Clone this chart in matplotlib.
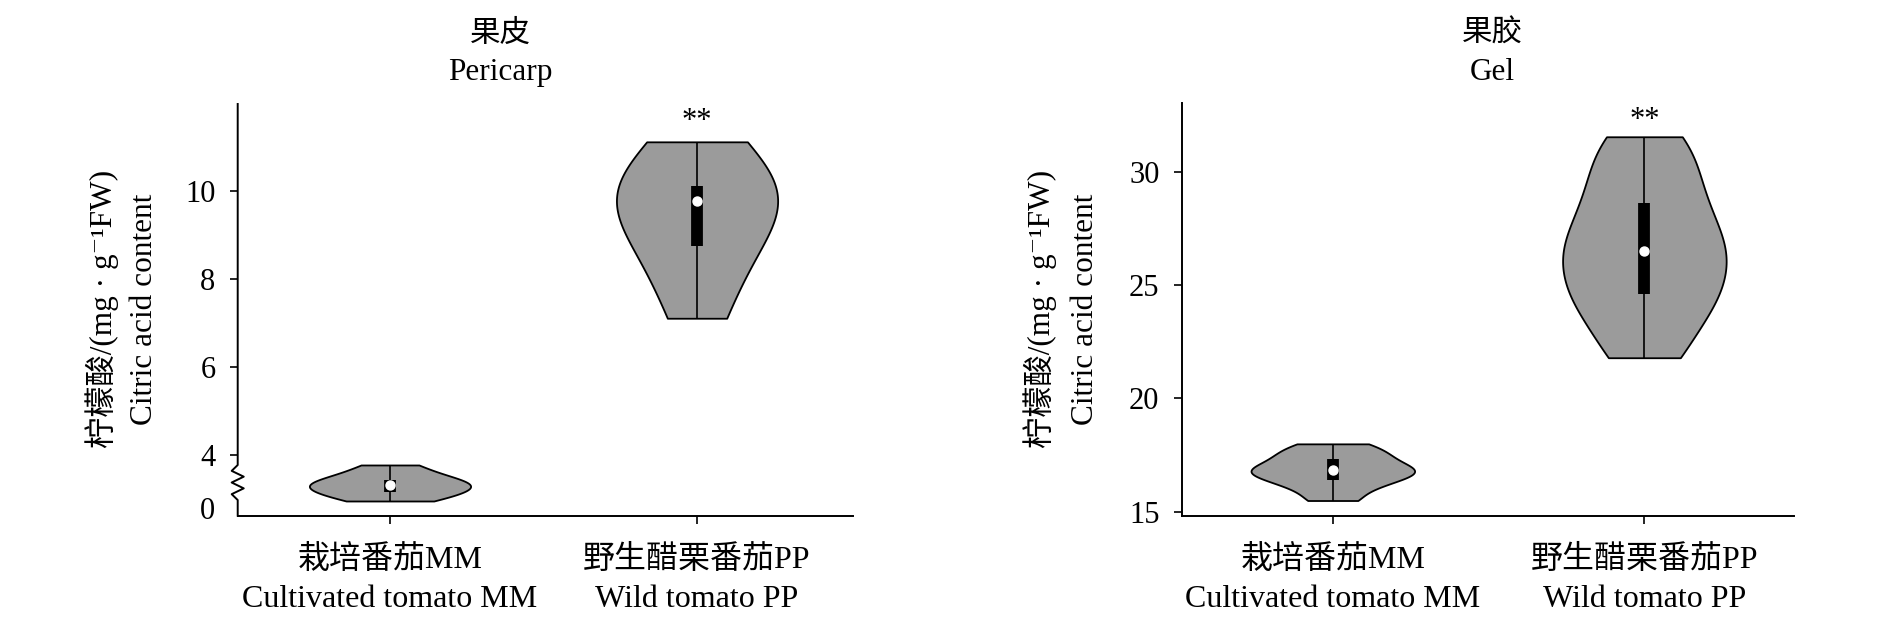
import numpy as np
import matplotlib
matplotlib.use('Agg')
import matplotlib.pyplot as plt

plt.rcParams['font.family'] = ['Liberation Serif', 'Noto Sans CJK SC', 'DejaVu Serif']

# citric acid content, mg/g FW (replicates)
peri_mm = [0.53, 0.8, 1.15, 1.4, 1.62, 1.86, 2.0, 2.15, 2.75, 3.25]
peri_pp = [7.11, 7.85, 8.5, 9.5, 9.7, 9.84, 10.02, 10.14, 10.16, 11.12]
gel_mm = [15.49, 16.05, 16.35, 16.6, 16.78, 16.85, 17.1, 17.4, 17.65, 17.99]
gel_pp = [21.79, 23.4, 24.4, 25.2, 26.2, 26.8, 27.8, 28.9, 30.2, 31.54]

groups_cn = ['栽培番茄MM', '野生醋栗番茄PP']
groups_en = ['Cultivated tomato MM', 'Wild tomato PP']
signif = ['', '**']

peri_ticks = [0, 4, 6, 8, 10]
gel_ticks = [15, 20, 25, 30]

# broken y axis on the pericarp panel: 0-4 squeezed
K = 0.301


def fwd(y):
    y = np.asarray(y, dtype=float)
    return np.where(y < 4, y * K, y - 4 + 4 * K)


def inv(p):
    p = np.asarray(p, dtype=float)
    return np.where(p < 4 * K, p / K, p + 4 - 4 * K)


def draw_violins(ax, data, bws, star_off):
    for pos, vals, h in zip([0, 1], data, bws):
        vals = np.asarray(vals)
        parts = ax.violinplot(vals, positions=[pos], widths=0.525, showextrema=False,
                              bw_method=h / vals.std(ddof=1))
        for b in parts['bodies']:
            b.set_facecolor('#9b9b9b')
            b.set_edgecolor('black')
            b.set_linewidth(1.3)
            b.set_alpha(1)
        q1, med, q3 = np.percentile(vals, [25, 50, 75])
        ax.vlines(pos, vals.min(), vals.max(), color='black', lw=1.2, zorder=3)
        ax.vlines(pos, q1, q3, color='black', lw=8.5, zorder=4)
        ax.scatter(pos, med, s=42, color='white', zorder=5)
        if signif[pos]:
            ax.annotate(signif[pos], xy=(pos, vals.max()), xytext=(0, star_off),
                        textcoords='offset points', ha='center', va='baseline', fontsize=22)


def style_axes(ax):
    for s in ['top', 'right']:
        ax.spines[s].set_visible(False)
    for s in ['left', 'bottom']:
        ax.spines[s].set_linewidth(1.4)
    ax.tick_params(direction='out', length=6, width=1.2, labelsize=22, pad=10)
    ax.tick_params(axis='x', pad=15)
    ax.set_xticks([0, 1])
    ax.set_xticklabels([c + '\n' + e for c, e in zip(groups_cn, groups_en)],
                       fontsize=23, linespacing=1.45)


fig = plt.figure(figsize=(18.9, 6.33), dpi=100)
ax1 = fig.add_axes([0.12577, 0.18531, 0.32556, 0.6504])
ax2 = fig.add_axes([0.62524, 0.18531, 0.32376, 0.65198])

# pericarp
ax1.set_yscale('function', functions=(fwd, inv))
draw_violins(ax1, [peri_mm, peri_pp], [0.6, 1.15], 9)
ax1.set_xlim(-0.496, 1.508)
ax1.set_ylim(-0.58, 11.98)
ax1.set_yticks(peri_ticks)
ax1.set_yticklabels([str(t) for t in peri_ticks])
style_axes(ax1)
ax1.yaxis.get_major_ticks()[0].tick1line.set_visible(False)
ax1.spines['left'].set_visible(False)
# left spine with the break zigzag
zx = [0, 0, -0.0098, 0.0098, -0.0098, 0.0098, -0.0098, 0, 0]
zy = [0, 0.0381, 0.0523, 0.0664, 0.0806, 0.0948, 0.1089, 0.1231, 1]
ax1.plot(zx, zy, transform=ax1.transAxes, color='black', lw=1.4, clip_on=False)

# gel
draw_violins(ax2, [gel_mm, gel_pp], [0.35, 1.35], 6)
ax2.set_xlim(-0.485, 1.479)
ax2.set_ylim(14.82, 33.03)
ax2.set_yticks(gel_ticks)
ax2.set_yticklabels([str(t) for t in gel_ticks])
style_axes(ax2)

# panel titles
fig.text(500 / 1890, 0.946, '果皮', ha='center', va='center', fontsize=22)
fig.text(500 / 1890, 0.886, 'Pericarp', ha='center', va='center', fontsize=22.5)
fig.text(1492 / 1890, 0.946, '果胶', ha='center', va='center', fontsize=22)
fig.text(1492 / 1890, 0.886, 'Gel', ha='center', va='center', fontsize=22.5)

# y labels (two lines each)
for x1, x2 in [(0.0539, 0.0767), (0.5501, 0.5743)]:
    fig.text(x1, 0.512, '柠檬酸/(mg · g⁻¹FW)', rotation=90, ha='center', va='center', fontsize=22.5)
    fig.text(x2, 0.512, 'Citric acid content', rotation=90, ha='center', va='center', fontsize=22.5)

fig.savefig('out.png', dpi=100)
